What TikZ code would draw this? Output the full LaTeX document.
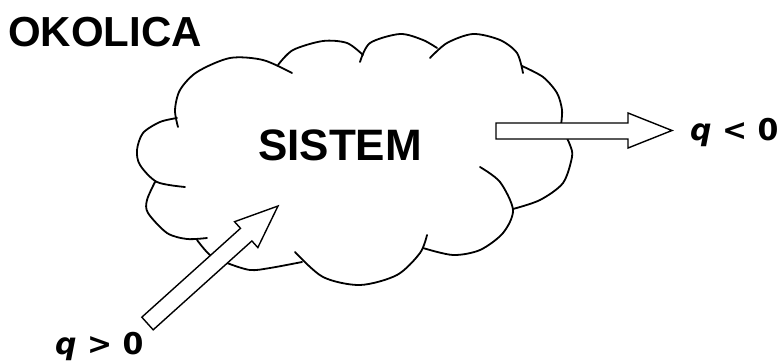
\documentclass[tikz,border=0pt]{standalone}
\usepackage{fontspec}
\setmainfont{Liberation Sans}
\newfontfamily\qfont{DejaVu Sans}

\tikzset{
  cloudline/.style={line width=1.8pt, line cap=round},
  blockarrow/.style={draw, fill=white, line width=1.4pt, line join=miter},
  bigtitle/.style={font=\fontsize{42}{50}\selectfont\bfseries, inner sep=0pt, anchor=base west},
  systitle/.style={font=\fontsize{44}{52}\selectfont\bfseries, inner sep=0pt, anchor=base},
  qlabel/.style={font=\fontsize{30}{36}\selectfont\qfont\bfseries, inner sep=0pt, anchor=base west}
}

\begin{document}
\begin{tikzpicture}[x=1pt, y=-1pt]
        \useasboundingbox (0,0) rectangle (779,361);

        % cloud, lobe by lobe
        \draw[cloudline] plot[smooth] coordinates {(185,187) (157,182) (140,165) (137,150) (143,133) (160,122) (177,118)};
        \draw[cloudline] plot[smooth] coordinates {(178,127) (175,110) (180,90) (197,72) (230,58) (263,60) (292,73)};
        \draw[cloudline] plot[smooth] coordinates {(278,65) (293,50) (323,41) (347,43) (363,55)};
        \draw[cloudline] plot[smooth] coordinates {(360,62) (370,43) (400,34) (423,40) (437,48)};
        \draw[cloudline] plot[smooth] coordinates {(430,58) (447,43) (473,34) (500,40) (517,53) (523,73)};
        \draw[cloudline] plot[smooth] coordinates {(522,66) (543,77) (557,93) (562,110) (561,125)};
        \draw[cloudline] plot[smooth] coordinates {(562,128) (570,145) (572,157) (563,183) (540,200) (513,209)};
        \draw[cloudline] plot[smooth] coordinates {(480,167) (500,182) (513,210) (503,233) (480,250) (453,255) (423,248)};
        \draw[cloudline] plot[smooth] coordinates {(427,235) (420,253) (397,275) (360,285) (323,277) (295,252)};
        \draw[cloudline] plot[smooth] coordinates {(302,262) (270,268) (250,270) (227,263) (210,255) (197,240)};
        \draw[cloudline] plot[smooth] coordinates {(155,182) (147,200) (148,213) (167,233) (187,239) (207,238)};

        \node[bigtitle] (okolica) at (8,47) {OKOLICA};
        \node[systitle] (sistem) at (340,160) {SISTEM};

        % heat going in
        \begin{scope}[shift={(147.5,323.5)}, rotate=42]
          \draw[blockarrow] (0,-8.5) -- (132.8,-8.5) -- (132.8,-17.4) -- (175.6,0)
            -- (132.8,17.4) -- (132.8,8.5) -- (0,8.5) -- cycle;
        \end{scope}
        % heat going out
        \draw[blockarrow] (496,123) -- (628,123) -- (628,113) -- (672,130.5)
          -- (628,148) -- (628,139) -- (496,139) -- cycle;

        \node[qlabel] (qin) at (55,354) {\itshape q\upshape\ > 0};
        \node[qlabel] (qout) at (690,140) {\itshape q\upshape\ < 0};
\end{tikzpicture}
\end{document}
